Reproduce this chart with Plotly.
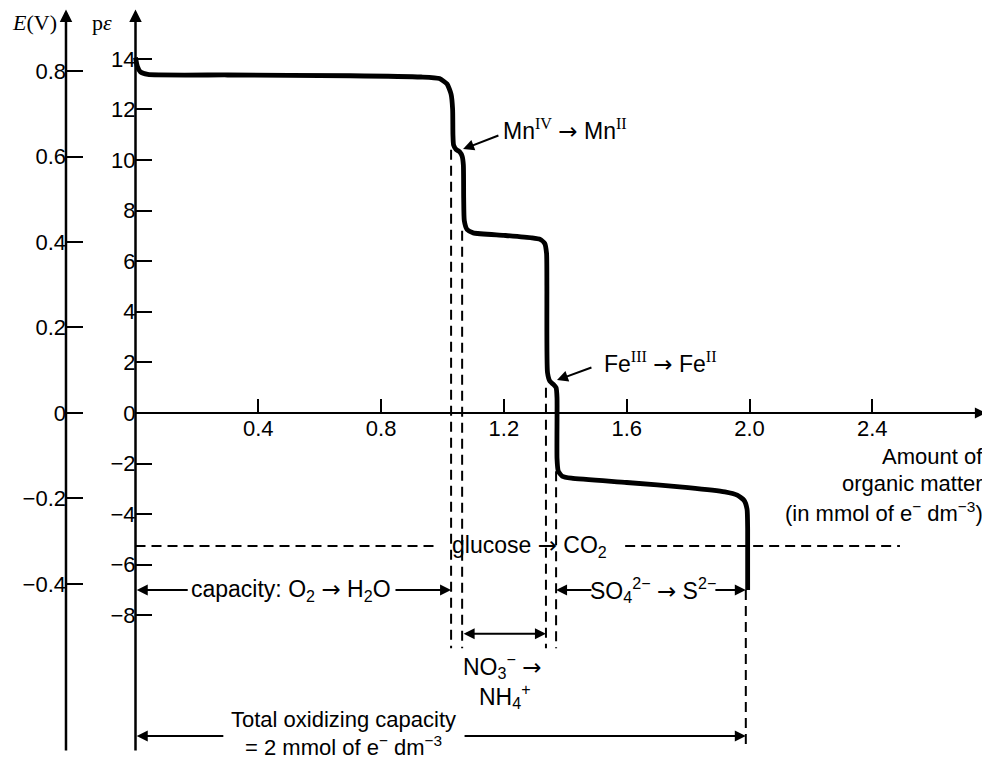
import plotly.graph_objects as go

# ---------------- data ----------------
# titration curve: amount of organic matter (mmol e- dm^-3) vs p-epsilon
curve_x = [0.000, 0.006, 0.016, 0.040, 0.300, 0.700, 0.930, 0.990, 1.015, 1.028, 1.033, 1.034,
           1.036, 1.044, 1.056, 1.064, 1.068, 1.069, 1.071, 1.080, 1.100, 1.200, 1.290, 1.318,
           1.333, 1.339, 1.340, 1.342, 1.350, 1.362, 1.370, 1.373, 1.373, 1.377, 1.390, 1.420,
           1.600, 1.800, 1.920, 1.960, 1.982, 1.992, 1.994, 1.994]
curve_pe = [14.05, 13.70, 13.48, 13.38, 13.36, 13.33, 13.28, 13.22, 13.00, 12.60, 12.00, 11.00,
            10.60, 10.42, 10.32, 10.15, 9.80, 8.50, 7.60, 7.25, 7.12, 7.02, 6.92, 6.86,
            6.70, 6.30, 5.00, 1.60, 1.25, 1.12, 1.00, 0.60, -1.80, -2.30, -2.50, -2.58,
            -2.75, -2.95, -3.12, -3.25, -3.45, -3.80, -4.60, -7.00]

x_tick_vals = [0.4, 0.8, 1.2, 1.6, 2.0, 2.4]
x_tick_text = ["0.4", "0.8", "1.2", "1.6", "2.0", "2.4"]
pe_tick_vals = [14, 12, 10, 8, 6, 4, 2, 0, -2, -4, -6, -8]
pe_tick_text = ["14", "12", "10", "8", "6", "4", "2", "0", "−2", "−4", "−6", "−8"]
e_tick_vals = [0.8, 0.6, 0.4, 0.2, 0.0, -0.2, -0.4]
e_tick_text = ["0.8", "0.6", "0.4", "0.2", "0", "−0.2", "−0.4"]

# boundaries of the reduction steps (dashed verticals): x, top pe, bottom pe
step_x = [1.028, 1.064, 1.337, 1.370, 1.988]
step_top = [10.40, 7.20, 1.00, -2.30, -7.00]
step_bottom = [-9.30, -9.30, -9.30, -9.30, -13.30]

glucose_pe = -5.26
E_PER_PE = 0.0592  # volts per unit p-epsilon

# ---------------- layout geometry ----------------
# the page body has an 8 px margin, so the figure is 8 px smaller than the window
W, H = 982, 751
X0, X1 = -0.4153, 2.7834
Y0, Y1 = -13.68, 16.008
E_AXIS_X = -0.2264
PE_TOP, PE_BOT = 15.95, -13.40
X_ARROW_END = 2.77


def xpaper(x):
    return (x - X0) / (X1 - X0)


def ypaper(y):
    return (y - Y0) / (Y1 - Y0)


SANS = "Liberation Sans, Arial, sans-serif"
SERIF = "Liberation Serif, Times New Roman, serif"
FS_TICK = 22
FS = 23
FS_SMALL = 22
ARR = '<span style="font-family:DejaVu Sans">→</span>'

fig = go.Figure()

fig.add_trace(go.Scatter(
    x=curve_x, y=curve_pe, mode="lines",
    line=dict(color="black", width=4.8, shape="spline", smoothing=0.5),
    hoverinfo="skip", showlegend=False,
))

dash = "10px,6px"
shapes = []
for sx, st, sb in zip(step_x, step_top, step_bottom):
    shapes.append(dict(type="line", xref="x", yref="y", x0=sx, x1=sx, y0=st, y1=sb,
                       line=dict(color="black", width=2, dash=dash), layer="below"))
# glucose -> CO2 horizontal dashed line (broken around its label)
shapes.append(dict(type="line", xref="x", yref="y", x0=0.0, x1=0.99, y0=glucose_pe, y1=glucose_pe,
                   line=dict(color="black", width=2, dash=dash)))
shapes.append(dict(type="line", xref="x", yref="y", x0=1.595, x1=2.49, y0=glucose_pe, y1=glucose_pe,
                   line=dict(color="black", width=2, dash=dash)))

ann = []


def arrow(xh, yh, xt, yt, width=2, size=1.1, head=2, side="end"):
    ann.append(dict(x=xh, y=yh, ax=xt, ay=yt, xref="x", yref="y", axref="x", ayref="y",
                    text="", showarrow=True, arrowhead=head, startarrowhead=head,
                    arrowsize=size, startarrowsize=size, arrowwidth=width, arrowside=side,
                    arrowcolor="black", standoff=0, startstandoff=0))


def text(x, y, s, size=FS, xanchor="center", family=SANS, align="center"):
    ann.append(dict(x=x, y=y, xref="x", yref="y", text=s, showarrow=False, xanchor=xanchor,
                    yanchor="middle", align=align, borderpad=0,
                    font=dict(family=family, size=size, color="black")))


# axes drawn as arrows
arrow(E_AXIS_X, PE_TOP, E_AXIS_X, PE_BOT, width=2.5, size=1.0)
arrow(0.0, PE_TOP, 0.0, PE_BOT, width=2.5, size=1.0)
arrow(X_ARROW_END, 0.0, 0.0, 0.0, width=2.0, size=1.1)

# axis labels
text(-0.2540, 15.45, "<i>E</i>(V)", size=22, family=SERIF, xanchor="right")
text(-0.1080, 15.45, "p<i>ε</i>", size=22, family=SERIF)
text(2.764, -1.72, "Amount of", size=FS_SMALL, xanchor="right")
text(2.764, -2.78, "organic matter", size=FS_SMALL, xanchor="right")
text(2.764, -3.92, "(in mmol of e<sup>−</sup> dm<sup>−3</sup>)", size=FS_SMALL, xanchor="right")

sup_style = '<sup><span style="font-family:Liberation Serif">{}</span></sup>'
# Mn annotation
arrow(1.067, 10.43, 1.187, 10.99)
text(1.193, 11.19, "Mn" + sup_style.format("IV") + " " + ARR + " Mn" + sup_style.format("II"),
     xanchor="left")
# Fe annotation
arrow(1.373, 1.30, 1.49, 1.82)
text(1.523, 1.98, "Fe" + sup_style.format("III") + " " + ARR + " Fe" + sup_style.format("II"),
     xanchor="left")

# glucose
text(1.285, glucose_pe, "glucose " + ARR + " CO<sub>2</sub>")

# capacity O2 -> H2O
y_cap = -7.0
text(0.507, y_cap, "capacity: O<sub>2</sub> " + ARR + " H<sub>2</sub>O")
arrow(0.004, y_cap, 0.175, y_cap)
arrow(step_x[0], y_cap, 0.842, y_cap)

# SO4 -> S
text(1.686, y_cap, "SO<sub>4</sub><sup>2−</sup> " + ARR + " S<sup>2−</sup>")
arrow(step_x[3], y_cap, 1.49, y_cap)
arrow(step_x[4], y_cap, 1.884, y_cap)

# NO3 -> NH4
y_no3 = -8.73
arrow(step_x[2], y_no3, step_x[1], y_no3, side="end+start")
text(1.197, -10.0, "NO<sub>3</sub><sup>−</sup> " + ARR)
text(1.203, -11.2, "NH<sub>4</sub><sup>+</sup>")

# total oxidizing capacity
y_tot = -12.77
text(0.676, -12.10, "Total oxidizing capacity", size=FS_SMALL)
text(0.676, -13.17, "= 2 mmol of e<sup>−</sup> dm<sup>−3</sup>", size=FS_SMALL)
arrow(0.004, y_tot, 0.291, y_tot)
arrow(step_x[4], y_tot, 1.067, y_tot)

axis_common = dict(showgrid=False, zeroline=False, showline=False, ticks="inside",
                   tickcolor="black", tickwidth=2, automargin=False,
                   tickfont=dict(family=SANS, size=FS_TICK, color="black"))

fig.update_layout(
    width=W, height=H, template="none",
    margin=dict(l=0, r=0, t=0, b=0, autoexpand=False),
    paper_bgcolor="white", plot_bgcolor="white", showlegend=False,
    xaxis=dict(range=[X0, X1], anchor="free", position=ypaper(0.0), side="bottom",
               tickvals=x_tick_vals, ticktext=x_tick_text, ticklen=14, **axis_common),
    yaxis=dict(range=[Y0, Y1], anchor="free", position=xpaper(0.0), side="left",
               tickvals=pe_tick_vals, ticktext=pe_tick_text, ticklen=16, **axis_common),
    yaxis2=dict(range=[Y0 * E_PER_PE, Y1 * E_PER_PE], anchor="free", overlaying="y",
                position=xpaper(E_AXIS_X), side="left",
                tickvals=e_tick_vals, ticktext=e_tick_text, ticklen=16, **axis_common),
    shapes=shapes, annotations=ann,
)
# dummy trace to make yaxis2 visible
fig.add_trace(go.Scatter(x=[None], y=[None], yaxis="y2", showlegend=False, hoverinfo="skip"))

fig.write_html("out.html")
